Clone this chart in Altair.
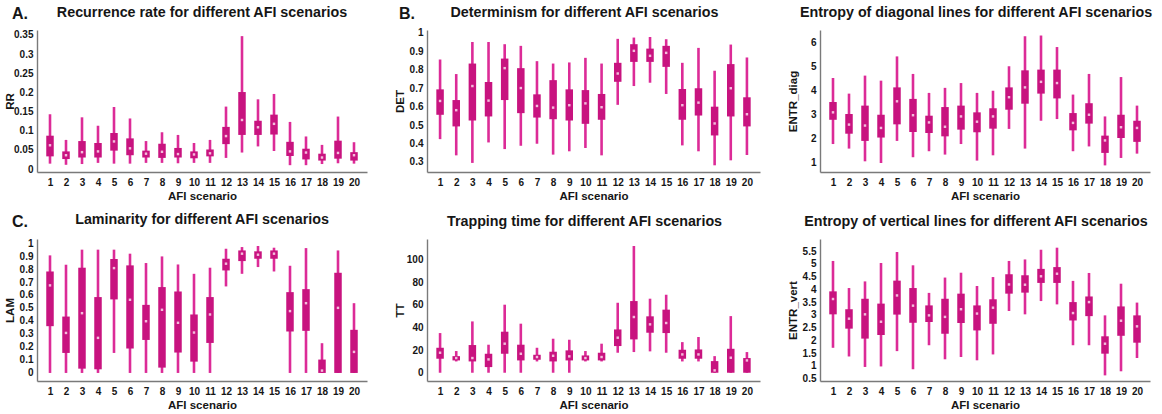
import altair as alt
import pandas as pd

SCENARIOS = list(range(1, 21))

# Recurrence rate (RR): lower whisker, lower quartile, median, upper quartile, upper whisker
RR_LO = [0.014, 0.011, 0.013, 0.016, 0.014, 0.014, 0.016, 0.016, 0.015, 0.016, 0.016, 0.029, 0.043, 0.059, 0.047, 0.010, 0.010, 0.013, 0.015, 0.014]
RR_Q1 = [0.033, 0.026, 0.030, 0.030, 0.048, 0.036, 0.030, 0.029, 0.030, 0.028, 0.033, 0.065, 0.089, 0.089, 0.090, 0.034, 0.025, 0.022, 0.027, 0.022]
RR_MED = [0.062, 0.036, 0.044, 0.046, 0.072, 0.054, 0.040, 0.045, 0.039, 0.038, 0.041, 0.086, 0.128, 0.109, 0.118, 0.046, 0.043, 0.030, 0.042, 0.036]
RR_Q3 = [0.087, 0.046, 0.073, 0.068, 0.094, 0.080, 0.048, 0.066, 0.055, 0.046, 0.051, 0.110, 0.201, 0.126, 0.142, 0.071, 0.053, 0.040, 0.074, 0.044]
RR_HI = [0.143, 0.076, 0.135, 0.113, 0.162, 0.132, 0.073, 0.096, 0.089, 0.068, 0.076, 0.163, 0.347, 0.182, 0.196, 0.123, 0.085, 0.063, 0.137, 0.070]
RR_TICKS = [0, 0.05, 0.1, 0.15, 0.2, 0.25, 0.3, 0.35]

# Determinism (DET)
DET_LO = [0.424, 0.336, 0.295, 0.406, 0.370, 0.388, 0.399, 0.340, 0.358, 0.376, 0.336, 0.610, 0.712, 0.730, 0.669, 0.390, 0.358, 0.282, 0.309, 0.338]
DET_Q1 = [0.556, 0.493, 0.525, 0.547, 0.636, 0.565, 0.541, 0.532, 0.525, 0.507, 0.529, 0.735, 0.843, 0.843, 0.816, 0.529, 0.552, 0.444, 0.547, 0.493]
DET_MED = [0.631, 0.581, 0.712, 0.633, 0.809, 0.701, 0.604, 0.595, 0.608, 0.618, 0.597, 0.780, 0.903, 0.876, 0.892, 0.608, 0.622, 0.509, 0.700, 0.559]
DET_Q3 = [0.694, 0.636, 0.834, 0.734, 0.861, 0.809, 0.667, 0.744, 0.694, 0.690, 0.669, 0.838, 0.939, 0.915, 0.930, 0.696, 0.700, 0.600, 0.831, 0.651]
DET_HI = [0.856, 0.777, 0.951, 0.951, 0.939, 0.930, 0.847, 0.834, 0.840, 0.865, 0.834, 0.968, 0.975, 0.978, 0.966, 0.838, 0.919, 0.795, 0.937, 0.867]
DET_TICKS = [0.3, 0.4, 0.5, 0.6, 0.7, 0.8, 0.9, 1]

# Entropy of diagonal lines (ENTR_diag)
ED_LO = [1.79, 1.60, 1.07, 1.00, 1.92, 1.24, 1.49, 1.35, 1.79, 1.10, 1.32, 2.42, 1.60, 2.76, 2.83, 1.49, 1.69, 0.90, 1.21, 1.39]
ED_Q1 = [2.80, 2.22, 1.92, 2.06, 2.61, 2.29, 2.25, 2.11, 2.39, 2.28, 2.43, 3.22, 3.47, 3.89, 3.69, 2.36, 2.64, 1.42, 2.04, 1.88]
ED_MED = [3.11, 2.60, 2.56, 2.46, 3.57, 2.99, 2.69, 2.51, 2.94, 2.72, 2.94, 3.74, 4.15, 4.38, 4.33, 2.67, 3.01, 1.94, 2.49, 2.46]
ED_Q3 = [3.54, 3.04, 3.39, 3.01, 4.15, 3.67, 2.97, 3.33, 3.39, 3.11, 3.28, 4.15, 4.86, 4.89, 4.89, 3.08, 3.49, 2.14, 3.01, 2.76]
ED_HI = [4.54, 3.89, 4.64, 4.43, 5.44, 4.71, 3.92, 4.13, 4.33, 3.92, 4.01, 5.03, 6.28, 6.31, 5.83, 3.85, 4.71, 2.94, 4.58, 3.39]
ED_TICKS = [1, 2, 3, 4, 5, 6]

# Laminarity (LAM)
LAM_LO = [0, 0, 0, 0, 0.154, 0, 0, 0, 0, 0, 0, 0.666, 0.763, 0.815, 0.781, 0, 0, 0, 0, 0]
LAM_Q1 = [0.360, 0.154, 0.033, 0.028, 0.566, 0.188, 0.254, 0.041, 0.157, 0.087, 0.231, 0.789, 0.861, 0.879, 0.879, 0.319, 0.324, 0, 0, 0]
LAM_MED = [0.674, 0.308, 0.460, 0.270, 0.807, 0.563, 0.398, 0.486, 0.386, 0.311, 0.450, 0.841, 0.918, 0.910, 0.918, 0.476, 0.537, 0.018, 0.501, 0.162]
LAM_Q3 = [0.781, 0.434, 0.810, 0.584, 0.877, 0.828, 0.524, 0.661, 0.627, 0.450, 0.584, 0.879, 0.943, 0.936, 0.943, 0.622, 0.645, 0.103, 0.771, 0.332]
LAM_HI = [0.905, 0.833, 0.949, 0.949, 0.949, 0.918, 0.846, 0.897, 0.835, 0.763, 0.810, 0.956, 0.969, 0.977, 0.964, 0.825, 0.961, 0.229, 0.943, 0.537]
LAM_TICKS = [0, 0.1, 0.2, 0.3, 0.4, 0.5, 0.6, 0.7, 0.8, 0.9, 1]

# Trapping time (TT)
TT_LO = [0, 10.0, 0, 0, 0, 0, 10.0, 0, 0, 10.0, 10.0, 17.7, 18.3, 18.9, 17.7, 10.0, 10.0, 0, 0, 0]
TT_Q1 = [12.4, 10.9, 10.0, 5.0, 16.8, 10.9, 11.5, 10.0, 10.9, 10.9, 10.9, 23.6, 29.5, 35.4, 35.1, 12.4, 12.4, 0, 0, 0]
TT_MED = [17.7, 13.0, 13.0, 11.8, 25.7, 16.8, 13.9, 15.0, 14.5, 13.0, 13.9, 31.0, 49.3, 42.8, 44.0, 16.2, 16.2, 2.1, 13.3, 10.9]
TT_Q3 = [22.1, 14.7, 24.5, 16.8, 36.3, 24.8, 15.9, 18.6, 19.8, 15.3, 17.7, 38.3, 63.4, 49.9, 55.8, 20.4, 20.6, 10.3, 21.2, 13.0]
TT_HI = [35.1, 19.2, 45.4, 24.8, 60.2, 43.4, 22.1, 30.1, 29.2, 19.2, 25.7, 61.9, 112.1, 65.5, 69.0, 27.1, 31.6, 14.7, 50.1, 18.3]
TT_TICKS = [0, 20, 40, 60, 80, 100]

# Entropy of vertical lines (ENTR_vert)
EV_LO = [1.71, 1.37, 0.96, 0.98, 1.58, 0.87, 1.81, 1.26, 1.35, 1.22, 1.45, 3.15, 3.02, 3.54, 3.41, 1.81, 1.81, 0.63, 0.79, 1.31]
EV_Q1 = [3.02, 2.46, 2.07, 2.21, 3.01, 2.69, 2.72, 2.26, 2.68, 2.39, 2.65, 3.83, 3.87, 4.25, 4.25, 2.78, 2.95, 1.48, 2.18, 1.91]
EV_MED = [3.62, 2.85, 3.02, 2.73, 3.76, 3.36, 2.98, 2.92, 3.22, 3.05, 3.28, 4.19, 4.18, 4.51, 4.61, 3.07, 3.50, 1.87, 2.77, 2.55]
EV_Q3 = [3.92, 3.22, 3.63, 3.44, 4.34, 4.05, 3.37, 3.63, 3.83, 3.37, 3.61, 4.59, 4.55, 4.80, 4.87, 3.50, 3.72, 2.16, 3.33, 2.98]
EV_HI = [5.11, 4.05, 4.31, 5.03, 5.46, 4.94, 3.86, 4.46, 4.65, 4.13, 4.48, 5.11, 5.17, 5.55, 5.63, 4.33, 4.64, 2.98, 4.22, 3.48]
EV_TICKS = [0.5, 1, 1.5, 2, 2.5, 3, 3.5, 4, 4.5, 5, 5.5]

BOX_COLOR = "#c8137f"
WHISKER_COLOR = "#dc2b97"
MEDIAN_COLOR = "#f4bddc"
FONT = "Liberation Sans"
INK = "#161616"


def panel(title, ylabel, lo, q1, med, q3, hi, ticks, ydomain, width,
          letter=None, letter_dx=-25, letter_dy=-11, title_dx=0):
    df = pd.DataFrame({"scenario": SCENARIOS, "lo": lo, "q1": q1,
                       "med": med, "q3": q3, "hi": hi})
    xenc = alt.X("scenario:Q",
                 scale=alt.Scale(domain=[0.5, 20.5], nice=False, zero=False),
                 axis=alt.Axis(values=SCENARIOS, title="AFI scenario", format="d",
                               labelPadding=5, titlePadding=3, labelOverlap=False))
    yscale = alt.Scale(domain=ydomain, nice=False, zero=False)
    yaxis = alt.Axis(values=ticks, title=ylabel, format="~r", labelPadding=4,
                     minExtent=20, maxExtent=20, titlePadding=2,
                     labelOverlap=False, labelBound=False)
    base = alt.Chart(df).encode(x=xenc)
    whisk = base.mark_rule(strokeWidth=2.6, color=WHISKER_COLOR).encode(
        y=alt.Y("lo:Q", scale=yscale, axis=yaxis), y2="hi:Q")
    box = base.mark_bar(size=7.5, color=BOX_COLOR).encode(
        y=alt.Y("q1:Q", scale=yscale, axis=yaxis), y2="q3:Q")
    mid = base.mark_point(shape="square", filled=True, size=6, opacity=1,
                          color=MEDIAN_COLOR).encode(
        y=alt.Y("med:Q", scale=yscale, axis=yaxis))
    layers = [whisk, box, mid]
    title_dy = 0
    if letter:
        tag = alt.Chart(pd.DataFrame({"t": [letter]})).mark_text(
            font=FONT, fontSize=16, fontWeight="bold", color=INK,
            align="left", baseline="alphabetic").encode(
            x=alt.value(letter_dx), y=alt.value(letter_dy), text="t:N")
        layers.append(tag)
        # the panel letter raises the top of the panel's content; pull the title back down
        title_dy = 24 + letter_dy + 11
    return alt.layer(*layers).properties(
        width=width, height=142,
        title=alt.TitleParams(title, frame="group", anchor="middle",
                              offset=10, dx=title_dx, dy=title_dy))


a = panel("Recurrence rate for different AFI scenarios", "RR",
          RR_LO, RR_Q1, RR_MED, RR_Q3, RR_HI, RR_TICKS, [-0.0078, 0.363], 330,
          letter="A.")
b = panel("Determinism for different AFI scenarios", "DET",
          DET_LO, DET_Q1, DET_MED, DET_Q3, DET_HI, DET_TICKS, [0.2457, 1.016], 333,
          letter="B.", letter_dx=-28, title_dx=-9)
c = panel("Entropy of diagonal lines for different AFI scenarios", "ENTR_diag",
          ED_LO, ED_Q1, ED_MED, ED_Q3, ED_HI, ED_TICKS, [0.625, 6.54], 330,
          title_dx=-9)
d = panel("Laminarity for different AFI scenarios", "LAM",
          LAM_LO, LAM_Q1, LAM_MED, LAM_Q3, LAM_HI, LAM_TICKS, [-0.062, 1.031], 330,
          letter="C.", letter_dy=-12)
e = panel("Trapping time for different AFI scenarios", "TT",
          TT_LO, TT_Q1, TT_MED, TT_Q3, TT_HI, TT_TICKS, [-7.3, 118.3], 333,
          title_dx=-9)
f = panel("Entropy of vertical lines for different AFI scenarios", "ENTR_vert",
          EV_LO, EV_Q1, EV_MED, EV_Q3, EV_HI, EV_TICKS, [0.41, 5.97], 330,
          title_dx=-9)

chart = alt.concat(a, b, c, d, e, f, columns=3,
                   spacing={"row": 67, "column": 60}, bounds="flush").properties(
    padding={"left": 4, "top": 5, "right": 0, "bottom": 0},
    background="white",
).resolve_scale(x="independent", y="independent").configure_view(stroke=None).configure_axis(
    grid=False,
    ticks=False,
    domainColor="#7a7a7a",
    domainWidth=1.4,
    labelFont=FONT,
    labelFontSize=10,
    labelFontWeight="bold",
    labelColor=INK,
    titleFont=FONT,
    titleFontSize=11.5,
    titleFontWeight="bold",
    titleColor=INK,
).configure_title(
    font=FONT, fontSize=14.3, fontWeight="bold", color=INK,
)

chart.save("out.html", embed_options={"renderer": "svg", "actions": False})
